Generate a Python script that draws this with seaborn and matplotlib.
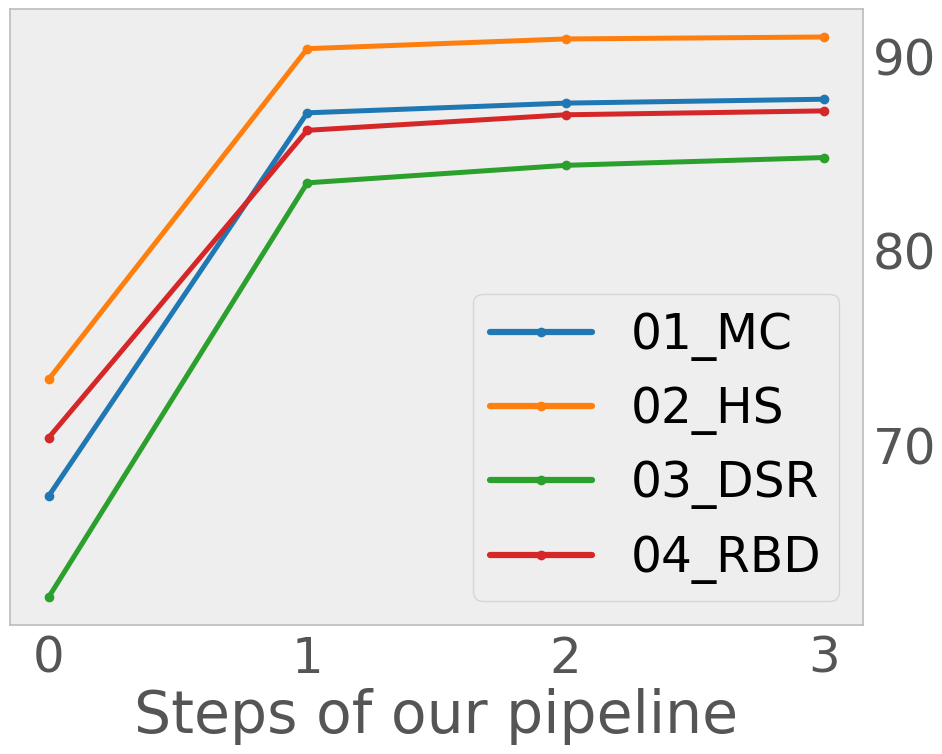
import matplotlib
matplotlib.use("Agg")
import matplotlib.pyplot as plt
import seaborn as sns
import pandas as pd

steps = [0, 1, 2, 3]
series_names = ["01_MC", "02_HS", "03_DSR", "04_RBD"]
mc = [67.4, 87.1, 87.6, 87.8]
hs = [73.4, 90.4, 90.9, 91.0]
dsr = [62.2, 83.5, 84.4, 84.8]
rbd = [70.4, 86.2, 87.0, 87.2]

rows = []
for name, vals in zip(series_names, [mc, hs, dsr, rbd]):
    for s, v in zip(steps, vals):
        rows.append({"step": s, "value": v, "method": name})
df = pd.DataFrame(rows)

sns.set_style("white", {"axes.facecolor": "#eeeeee", "axes.edgecolor": "#bcbcbc"})
plt.rcParams["font.family"] = ["DejaVu Sans"]

fig, ax = plt.subplots(figsize=(9.42, 7.54), dpi=100)
fig.subplots_adjust(left=10/942, right=863/942, top=1-9/754, bottom=1-625/754)

sns.lineplot(data=df, x="step", y="value", hue="method", palette="tab10",
             marker="o", markersize=7, markeredgewidth=0, linewidth=3.6, ax=ax)

ax.yaxis.tick_right()
ax.set_xticks(steps)
ax.set_yticks([70, 80, 90])
ax.tick_params(axis="both", labelsize=36, colors="#555555", length=0, pad=7)
ax.set_xlabel("Steps of our pipeline", fontsize=42, color="#555555", labelpad=4)
ax.set_ylabel("")
for sp in ax.spines.values():
    sp.set_color("#bcbcbc")
    sp.set_linewidth(1.2)

leg = ax.legend(loc="lower right", fontsize=35, frameon=True, fancybox=True,
                facecolor="#eeeeee", edgecolor="#d5d5d5", framealpha=1.0,
                handlelength=2.1, borderpad=0.35, labelcolor="black")
for line in leg.get_lines():
    line.set_linewidth(4.5)
    line.set_markersize(7)

fig.savefig("out.png", dpi=100)
